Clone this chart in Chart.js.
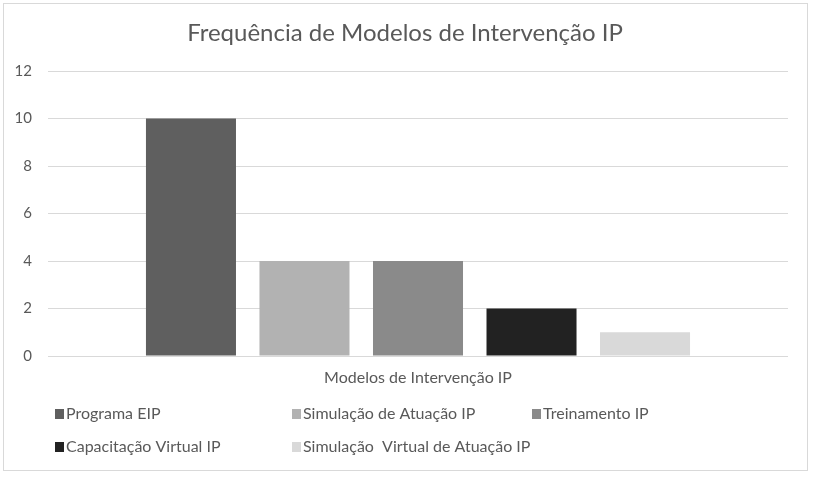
<!DOCTYPE html>
<html>
<head>
<meta charset="utf-8">
<script src="https://cdn.jsdelivr.net/npm/chart.js@4"></script>
<style>
  html, body { margin: 0; padding: 0; background: #fff; }
  #wrap { width: 814px; height: 478px; position: relative; }
</style>
</head>
<body>
<div id="wrap"><canvas id="freqChart" width="814" height="478"></canvas></div>
<script>
const categories = ['Modelos de Intervenção IP'];
const seriesNames = ['Programa EIP', 'Simulação de Atuação IP', 'Treinamento IP', 'Capacitação Virtual IP', 'Simulação  Virtual de Atuação IP'];
const seriesValues = [10, 4, 4, 2, 1];
const seriesColors = ['#5f5f5f', '#b2b2b2', '#8a8a8a', '#222222', '#d9d9d9'];
const yTicks = [0, 2, 4, 6, 8, 10, 12];

const FONT = 'Lato, "Open Sans", sans-serif';

// title, frame and the excel-like legend grid are drawn here
const decorPlugin = {
  id: 'decor',
  afterDraw(chart) {
    const c = chart.ctx;
    c.save();
    c.strokeStyle = '#d9d9d9';
    c.lineWidth = 1;
    c.strokeRect(3.5, 3.5, 804, 467);

    c.fillStyle = '#595959';
    c.font = '24px ' + FONT;
    c.textAlign = 'center';
    c.textBaseline = 'middle';
    c.fillText('Frequência de Modelos de Intervenção IP', 405, 33);

    // legend: 3 columns, 2 rows
    const colX = [55, 292, 532];
    const rowY = [414, 447];
    c.font = '16px ' + FONT;
    c.textAlign = 'left';
    chart.data.datasets.forEach(function(ds, i) {
      const x = colX[i % 3];
      const y = rowY[Math.floor(i / 3)];
      c.fillStyle = ds.backgroundColor;
      c.fillRect(x, y - 5, 9, 10);
      c.fillStyle = '#595959';
      c.fillText(ds.label, x + 11, y);
    });
    c.restore();
  }
};

const ctx = document.getElementById('freqChart').getContext('2d');
new Chart(ctx, {
  type: 'bar',
  data: {
    labels: categories,
    datasets: seriesNames.map(function(name, i) {
      return {
        label: name,
        data: [seriesValues[i]],
        backgroundColor: seriesColors[i],
        categoryPercentage: 0.767,
        barPercentage: 0.793
      };
    })
  },
  options: {
    responsive: false,
    animation: false,
    layout: { padding: { left: 0, right: 26, top: 71, bottom: 92 } },
    plugins: {
      legend: { display: false },
      title: { display: false },
      tooltip: { enabled: false }
    },
    scales: {
      x: {
        grid: { display: false, drawTicks: false },
        border: { display: false },
        ticks: { color: '#595959', font: { family: FONT, size: 16 }, padding: 12 },
        afterFit: function(s) { s.height = 30; }
      },
      y: {
        min: 0,
        max: 12,
        afterBuildTicks: function(s) { s.ticks = yTicks.map(function(v) { return { value: v }; }); },
        grid: { color: '#d9d9d9', drawTicks: false },
        border: { display: false },
        ticks: { color: '#595959', font: { family: FONT, size: 15 }, padding: 16 },
        afterFit: function(s) { s.width = 48; }
      }
    }
  },
  plugins: [decorPlugin]
});
</script>
</body>
</html>
